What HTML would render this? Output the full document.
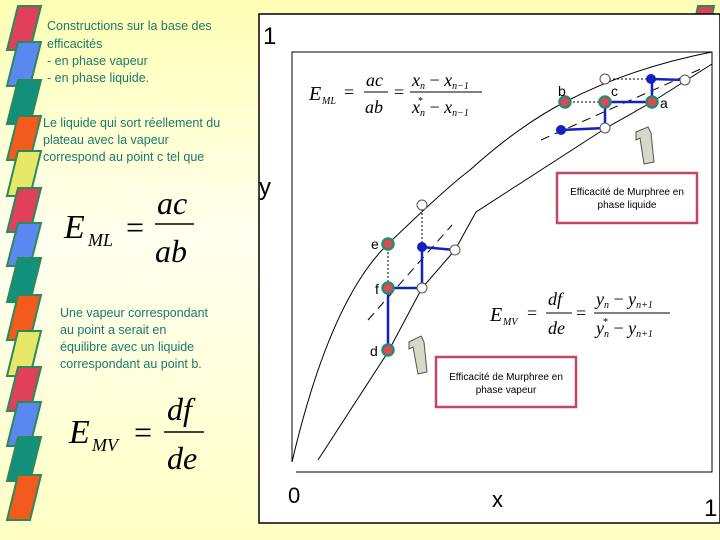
<!DOCTYPE html>
<html><head><style>
html,body{margin:0;padding:0;width:720px;height:540px;overflow:hidden;}
body{background:linear-gradient(#ffffb4,#fffff0 45%,#ffffc4);font-family:"Liberation Sans",sans-serif;}
svg{position:absolute;left:0;top:0;}
.t{font-family:"Liberation Sans",sans-serif;font-size:12.5px;fill:#1a7a6a;}
.m{font-family:"Liberation Serif",serif;font-style:italic;fill:#000;}
</style></head><body>
<svg width="720" height="540" viewBox="0 0 720 540">
<g stroke="#2a8a5a" stroke-width="2">
<polygon points="18,6 41,6 30,50 7,50" fill="#e0405a"/>
<polygon points="18,42 41,42 30,86 7,86" fill="#5a88f0"/>
<polygon points="18,80 41,80 30,124 7,124" fill="#13907c"/>
<polygon points="18,116 41,116 30,160 7,160" fill="#f25a1e"/>
<polygon points="18,151 41,151 30,196 7,196" fill="#e8e868"/>
<polygon points="18,188 41,188 30,232 7,232" fill="#e0405a"/>
<polygon points="18,223 41,223 30,266 7,266" fill="#5a88f0"/>
<polygon points="18,258 41,258 30,302 7,302" fill="#13907c"/>
<polygon points="18,295 41,295 30,340 7,340" fill="#f25a1e"/>
<polygon points="18,331 41,331 30,376 7,376" fill="#e8e868"/>
<polygon points="18,367 41,367 30,411 7,411" fill="#e0405a"/>
<polygon points="18,402 41,402 30,446 7,446" fill="#5a88f0"/>
<polygon points="18,437 41,437 30,481 7,481" fill="#13907c"/>
<polygon points="18,475 41,475 30,520 7,520" fill="#f25a1e"/>
<polygon points="698,6 714,6 711,20 695,20" fill="#e0405a"/>
</g>
<text class="t" x="47" y="30">Constructions sur la base des</text>
<text class="t" x="47" y="48">efficacités</text>
<text class="t" x="47" y="65">- en phase vapeur</text>
<text class="t" x="47" y="82">- en phase liquide.</text>
<text class="t" x="43" y="127">Le liquide qui sort réellement du</text>
<text class="t" x="43" y="144">plateau avec la vapeur</text>
<text class="t" x="43" y="161">correspond au point c tel que</text>
<text class="t" x="60" y="317">Une vapeur correspondant</text>
<text class="t" x="60" y="334">au point a serait en</text>
<text class="t" x="60" y="351">équilibre avec un liquide</text>
<text class="t" x="60" y="368">correspondant au point b.</text>
<text class="m" x="64" y="238" font-size="34">E</text><text class="m" x="88" y="246" font-size="18">ML</text>
<text x="126" y="238" font-size="32" font-family="Liberation Serif">=</text>
<text class="m" x="157" y="214" font-size="32">ac</text>
<line x1="155" y1="224" x2="194" y2="224" stroke="#000" stroke-width="1.5"/>
<text class="m" x="155" y="262" font-size="32">ab</text>
<text class="m" x="69" y="443" font-size="34">E</text><text class="m" x="92" y="451" font-size="18">MV</text>
<text x="134" y="443" font-size="32" font-family="Liberation Serif">=</text>
<text class="m" x="167" y="420" font-size="32">df</text>
<line x1="164" y1="432" x2="204" y2="432" stroke="#000" stroke-width="1.5"/>
<text class="m" x="167" y="469" font-size="32">de</text>

<rect x="259" y="14" width="461" height="509" fill="#fff" stroke="#000" stroke-width="1.5"/>
<text x="263" y="44" font-size="24" font-family="Liberation Sans">1</text>
<text x="259" y="195" font-size="24" font-family="Liberation Sans">y</text>
<text x="288" y="503" font-size="22" font-family="Liberation Sans">0</text>
<text x="492" y="507" font-size="22" font-family="Liberation Sans">x</text>
<text x="704" y="516" font-size="24" font-family="Liberation Sans">1</text>
<g fill="none" stroke="#000" stroke-width="1">
<polyline points="292,462 292,52 712,52 712,472 296,472"/>
<path d="M292,462 Q330,300 388,244 T470,170 Q520,125 565,102 Q630,68 712,52"/>
<polyline points="318,460 388,352 422,288 455,250 476,212 606,128 652,102 712,64"/>
<line x1="541" y1="140" x2="705" y2="67" stroke-dasharray="9,6"/>
<line x1="368" y1="320" x2="452" y2="225" stroke-dasharray="9,6"/>
<g stroke-dasharray="2,2">
<line x1="565" y1="102" x2="605" y2="102"/><line x1="605" y1="79" x2="651" y2="79"/>
<line x1="422" y1="205" x2="422" y2="247"/><line x1="388" y1="244" x2="388" y2="288"/>
</g>
</g>
<g stroke="#1420c0" stroke-width="2.5" fill="none">
<polyline points="561,130 605,128 605,102 652,102 652,79 685,80"/>
<polyline points="455,250 422,247 422,288 388,288 388,350"/>
</g>
<g stroke="#555" stroke-width="1" fill="#fff">
<circle cx="605" cy="79" r="5"/><circle cx="685" cy="80" r="5"/><circle cx="605" cy="128" r="5"/>
<circle cx="422" cy="205" r="5"/><circle cx="455" cy="250" r="5"/><circle cx="422" cy="288" r="5"/>
</g>
<g fill="#1420c0"><circle cx="651" cy="79" r="5"/><circle cx="561" cy="130" r="5"/><circle cx="422" cy="247" r="5"/></g>
<g fill="#e04858" stroke="#2a8a70" stroke-width="2.5">
<circle cx="565" cy="102" r="5.5"/><circle cx="605" cy="102" r="5.5"/><circle cx="652" cy="102" r="5.5"/>
<circle cx="388" cy="244" r="5.5"/><circle cx="388" cy="288" r="5.5"/><circle cx="388" cy="350" r="5.5"/>
</g>
<g font-size="14" font-family="Liberation Sans">
<text x="558" y="96">b</text><text x="611" y="96">c</text><text x="660" y="108">a</text>
<text x="371" y="249">e</text><text x="375" y="294">f</text><text x="370" y="356">d</text>
</g>
<polygon points="636,132 648,127 651,133 654,162 644,164 640,138 636,140" fill="#d8d8c8" stroke="#555"/>
<polygon points="409,342 421,336 424,342 427,372 418,374 413,347 409,349" fill="#d8d8c8" stroke="#555"/>
<rect x="557" y="173" width="140" height="50" fill="#fff" stroke="#c04860" stroke-width="2.5"/>
<text x="627" y="195" font-size="10" text-anchor="middle">Efficacité de Murphree en</text>
<text x="627" y="208" font-size="10" text-anchor="middle">phase liquide</text>
<rect x="436" y="357" width="140" height="50" fill="#fff" stroke="#c04860" stroke-width="2.5"/>
<text x="506" y="380" font-size="10" text-anchor="middle">Efficacité de Murphree en</text>
<text x="506" y="393" font-size="10" text-anchor="middle">phase vapeur</text>
<g class="m">
<text x="309" y="100" font-size="20">E</text><text x="322" y="104" font-size="10">ML</text>
<text x="344" y="98" font-size="18" font-style="normal">=</text>
<text x="366" y="86" font-size="18">ac</text><line x1="364" y1="92" x2="388" y2="92" stroke="#000"/>
<text x="365" y="113" font-size="18">ab</text>
<text x="394" y="98" font-size="18" font-style="normal">=</text>
<text x="412" y="86" font-size="18">x<tspan font-size="10" dy="3">n</tspan><tspan dy="-3" font-style="normal"> − </tspan>x<tspan font-size="10" dy="3">n−1</tspan></text>
<line x1="410" y1="92" x2="482" y2="92" stroke="#000"/>
<text x="412" y="113" font-size="18">x<tspan font-size="10" dy="3">n</tspan><tspan dy="-3" font-style="normal"> − </tspan>x<tspan font-size="10" dy="3">n−1</tspan></text>
<text x="418" y="104" font-size="10" font-style="normal">*</text>
<text x="490" y="321" font-size="20">E</text><text x="503" y="325" font-size="10">MV</text>
<text x="527" y="319" font-size="18" font-style="normal">=</text>
<text x="548" y="305" font-size="18">df</text><line x1="546" y1="313" x2="572" y2="313" stroke="#000"/>
<text x="548" y="334" font-size="18">de</text>
<text x="576" y="319" font-size="18" font-style="normal">=</text>
<text x="596" y="305" font-size="18">y<tspan font-size="10" dy="3">n</tspan><tspan dy="-3" font-style="normal"> − </tspan>y<tspan font-size="10" dy="3">n+1</tspan></text>
<line x1="594" y1="313" x2="670" y2="313" stroke="#000"/>
<text x="596" y="334" font-size="18">y<tspan font-size="10" dy="3">n</tspan><tspan dy="-3" font-style="normal"> − </tspan>y<tspan font-size="10" dy="3">n+1</tspan></text>
<text x="603" y="325" font-size="10" font-style="normal">*</text>
</g>
</svg>
</body></html>
